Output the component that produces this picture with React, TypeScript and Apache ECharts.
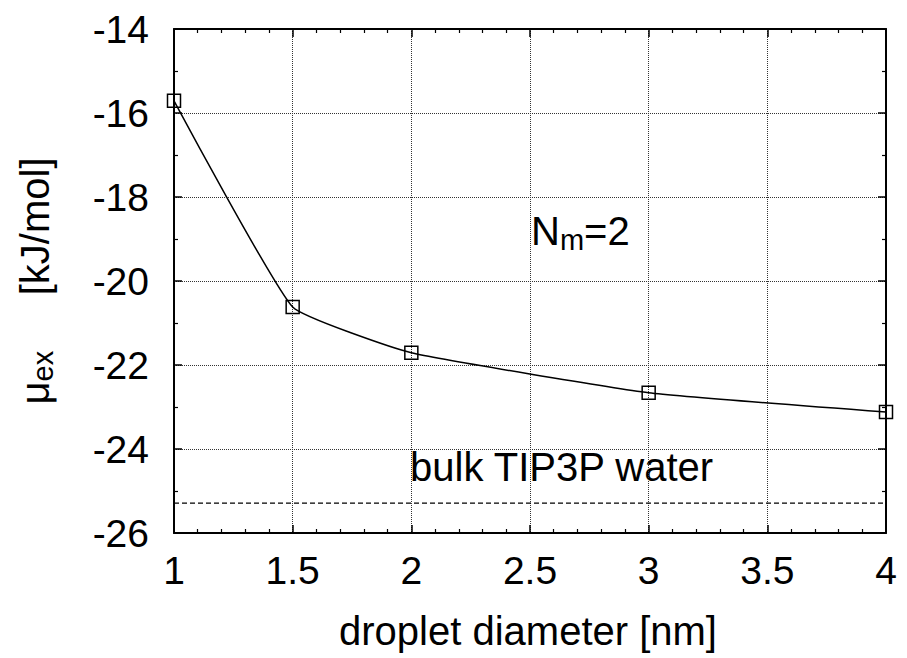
import React, { useEffect, useRef } from "react";
import * as echarts from "echarts";

const diameters = [1, 1.5, 2, 3, 4];
const muEx = [-15.71, -20.62, -21.71, -22.66, -23.12];
const bulkMu = -25.29;
const xRange = [1, 4];
const yRange = [-26, -14];

const FONT = "'Liberation Sans', Arial, Helvetica, sans-serif";

export default function App() {
  const ref = useRef<HTMLDivElement>(null);
  useEffect(() => {
    document.body.style.margin = "0";
    const chart = echarts.init(ref.current!, null, { renderer: "svg" });
    const axisLine = { show: true, onZero: false, lineStyle: { color: "#000", width: 2 } };
    const axisTick = { show: true, inside: true, length: 8, lineStyle: { color: "#000", width: 1.5 } };
    const splitLine = { show: true, lineStyle: { color: "#333", type: "dotted", width: 1 } };
    const label = { color: "#000", fontSize: 39, fontFamily: FONT };
    chart.setOption({
      animation: false,
      backgroundColor: "#fff",
      grid: { left: 174, top: 29, right: 21, bottom: 125, containLabel: false },
      xAxis: [
        {
          type: "value", min: xRange[0], max: xRange[1], interval: 0.5, position: "bottom",
          axisLine, axisTick,
          minorTick: { show: true, splitNumber: 5, length: 4, lineStyle: { color: "#000", width: 1.2 } },
          splitLine, minorSplitLine: { show: false },
          axisLabel: { ...label, margin: 18 },
        },
        {
          type: "value", min: xRange[0], max: xRange[1], interval: 0.5, position: "top",
          axisLine, axisTick,
          minorTick: { show: true, splitNumber: 5, length: 4, lineStyle: { color: "#000", width: 1.2 } },
          splitLine: { show: false }, axisLabel: { show: false },
        },
      ],
      yAxis: [
        {
          type: "value", min: yRange[0], max: yRange[1], interval: 2, position: "left",
          axisLine, axisTick,
          minorTick: { show: true, splitNumber: 2, length: 4, lineStyle: { color: "#000", width: 1.2 } },
          splitLine,
          axisLabel: { ...label, margin: 25 },
        },
        {
          type: "value", min: yRange[0], max: yRange[1], interval: 2, position: "right",
          axisLine, axisTick,
          minorTick: { show: true, splitNumber: 2, length: 4, lineStyle: { color: "#000", width: 1.2 } },
          splitLine: { show: false }, axisLabel: { show: false },
        },
      ],
      series: [
        {
          type: "line",
          xAxisIndex: 0, yAxisIndex: 0,
          data: diameters.map((d, i) => [d, muEx[i]]),
          smooth: 0.12,
          symbol: "rect",
          symbolSize: 13,
          lineStyle: { color: "#000", width: 1.5 },
          itemStyle: { color: "rgba(0,0,0,0)", borderColor: "#000", borderWidth: 1.5 },
          z: 3,
        },
        {
          type: "line",
          xAxisIndex: 0, yAxisIndex: 0,
          data: [[xRange[0], bulkMu], [xRange[1], bulkMu]],
          symbol: "none",
          lineStyle: { color: "#000", width: 1.2, type: [5, 3] },
          z: 2,
        },
      ],
      graphic: [
        {
          type: "text", left: 531, top: 211,
          style: {
            text: "{n|N}{s|m}{n|=2}",
            fill: "#000",
            rich: {
              n: { fontSize: 40, fontFamily: FONT, fill: "#000" },
              s: { fontSize: 29, fontFamily: FONT, fill: "#000", padding: [17, 0, 0, 0] },
            },
          },
        },
        {
          type: "text", left: 410, top: 447,
          style: { text: "bulk TIP3P water", fontSize: 40, fontFamily: FONT, fill: "#000" },
        },
        {
          type: "text", x: 528, y: 631,
          style: { text: "droplet diameter [nm]", fontSize: 40, fontFamily: FONT, fill: "#000", align: "center", verticalAlign: "middle" },
        },
        {
          type: "text", x: 35, y: 281, rotation: Math.PI / 2,
          style: {
            text: "{n|μ}{s|ex}{n|     [kJ/mol]}",
            align: "center", verticalAlign: "middle",
            fill: "#000",
            rich: {
              n: { fontSize: 40, fontFamily: FONT, fill: "#000" },
              s: { fontSize: 29, fontFamily: FONT, fill: "#000", padding: [16, 0, 0, 0] },
            },
          },
        },
      ],
    });
    return () => chart.dispose();
  }, []);
  return <div ref={ref} style={{ position: "absolute", left: 0, top: 0, width: 907, height: 658 }} />;
}
